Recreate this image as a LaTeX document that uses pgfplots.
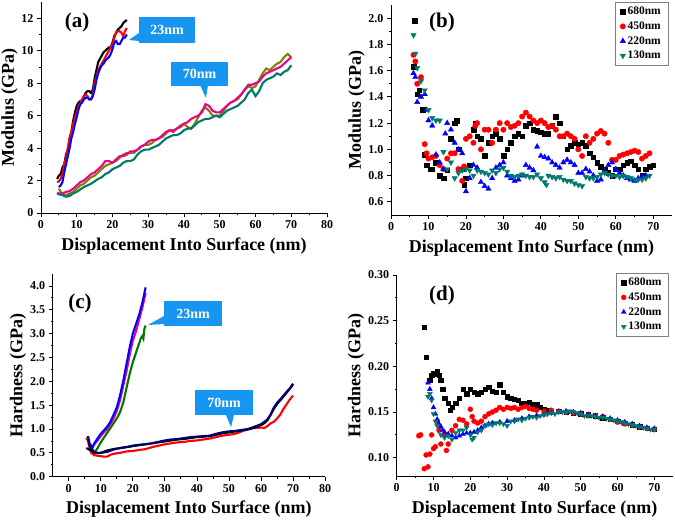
\documentclass[border=0pt]{standalone}
\usepackage{pgfplots}
\pgfplotsset{compat=1.18}
\usepackage{fontspec}
\setmainfont{Liberation Serif}
\definecolor{callout}{RGB}{22,150,240}
\definecolor{olivec}{RGB}{128,128,0}
\definecolor{tealc}{RGB}{0,120,110}
\definecolor{navyc}{RGB}{0,0,110}
\definecolor{greenc}{RGB}{0,120,0}

\pgfplotsset{
  panel/.style={
    scale only axis,
    axis lines=left,
    axis line style={-, line width=0.8pt},
    tick align=outside,
    major tick length=4pt,
    minor tick length=2pt,
    every tick/.style={black, line width=0.8pt},
    minor x tick num=1,
    minor y tick num=1,
    tick label style={font=\bfseries\fontsize{12}{12}\selectfont},
    label style={font=\bfseries\fontsize{18}{18}\selectfont},
    xlabel style={yshift=-2pt},
    ylabel shift=-3pt,
    /pgf/number format/assume math mode=true,
    xlabel={Displacement Into Surface (nm)},
  },
  curve/.style={no markers, line width=2.1pt},
  scat/.style={only marks, mark size=2.7pt},
  leg/.style={legend style={at={(1,1)}, anchor=north east, draw=gray,
    font=\bfseries\fontsize{11.5}{12}\selectfont, row sep=1.5pt, inner xsep=5pt, inner ysep=3pt},
    legend cell align=left},
}

\begin{document}
\begin{tikzpicture}
\useasboundingbox (0,0) rectangle (675pt,521pt);

% ---------- (a) ----------
\begin{axis}[panel,
  at={(41pt,308pt)}, anchor=south west, width=286pt, height=211pt,
  xmin=0, xmax=80, ymin=0, ymax=13,
  xtick={0,10,...,80}, ytick={0,2,...,12},
  ylabel={Modulus (GPa)}]
\addplot[curve, olivec] coordinates {(5,1.5)(5.5,1.3)(6,1.1)(7,1.1)(8,1.2)(9,1.3)(10,1.5)(11,1.7)(12,1.8)(13,2.0)(14,2.2)(15,2.3)(16,2.5)(17,2.7)(18,2.9)(19,3.0)(20,3.1)(21,3.2)(22,3.4)(23,3.6)(24,3.7)(25,3.7)(26,3.7)(27,3.9)(28,4.1)(29,4.2)(30,4.2)(31,4.3)(32,4.5)(33,4.6)(34,4.7)(35,4.9)(36,5.1)(37,5.1)(38,5.2)(39,5.4)(40,5.5)(41,5.3)(42,5.2)(43,5.5)(44,5.9)(45,6.3)(46,6.5)(47,6.3)(48,6.0)(49,6.0)(50,6.0)(51,6.3)(52,6.6)(53,6.8)(54,6.9)(55,7.0)(56,7.3)(57,7.6)(58,7.8)(59,7.7)(60,7.8)(61,8.2)(62,8.6)(63,8.9)(64,8.8)(65,9.0)(66,9.2)(67,9.3)(68,9.6)(69,9.8)(70,9.6)};
\addplot[curve, magenta] coordinates {(4.5,1.25)(5,1.2)(6,1.2)(7,1.3)(8,1.35)(9,1.5)(10,1.7)(11,1.9)(12,2.0)(13,2.2)(14,2.4)(15,2.5)(16,2.7)(17,2.9)(18,3.2)(19,3.2)(20,3.1)(21,3.3)(22,3.5)(23,3.5)(24,3.6)(25,3.8)(26,3.8)(27,3.9)(28,4.1)(29,4.2)(30,4.4)(31,4.5)(32,4.5)(33,4.6)(34,4.8)(35,5.0)(36,5.1)(37,5.0)(38,5.2)(39,5.3)(40,5.5)(41,5.6)(42,5.8)(43,5.9)(44,6.0)(45,6.2)(46,6.7)(47,6.6)(48,6.3)(49,6.2)(50,6.2)(51,6.4)(52,6.6)(53,6.8)(54,6.9)(55,7.1)(56,7.3)(57,7.6)(58,7.9)(59,7.9)(60,8.0)(61,8.1)(62,8.4)(63,8.6)(64,8.7)(65,8.8)(66,8.9)(67,9.0)(68,9.2)(69,9.4)(70,9.6)};
\addplot[curve, tealc] coordinates {(4.5,1.2)(5,1.15)(6,1.1)(7,1.0)(8,1.05)(9,1.2)(10,1.3)(11,1.45)(12,1.6)(13,1.7)(14,1.8)(15,1.95)(16,2.1)(17,2.2)(18,2.4)(19,2.5)(20,2.7)(21,2.8)(22,2.9)(23,3.1)(24,3.2)(25,3.2)(26,3.3)(27,3.6)(28,3.8)(29,3.9)(30,3.9)(31,4.0)(32,4.1)(33,4.2)(34,4.4)(35,4.6)(36,4.7)(37,4.8)(38,4.8)(39,4.9)(40,5.1)(41,5.2)(42,5.2)(43,5.4)(44,5.6)(45,5.7)(46,5.8)(47,5.8)(48,5.9)(49,6.0)(50,5.9)(51,6.1)(52,6.3)(53,6.4)(54,6.5)(55,6.6)(56,6.8)(57,7.0)(58,7.4)(59,7.6)(60,7.2)(61,7.5)(62,8.0)(63,8.2)(64,8.3)(65,8.4)(66,8.6)(67,8.5)(68,8.7)(69,8.8)(70,9.1)};
\addplot[curve, black] coordinates {(4.5,2.1)(5,2.3)(5.5,2.4)(6,2.8)(6.5,3.0)(7,3.6)(7.5,3.9)(8,4.6)(8.5,5.0)(9,5.7)(9.5,6.2)(10,6.6)(10.5,6.8)(11,6.9)(11.5,6.9)(12,7.2)(12.5,7.4)(13,7.5)(13.5,7.5)(14,7.4)(14.5,7.6)(15,8.3)(15.5,8.8)(16,9.3)(16.5,9.5)(17,9.7)(17.5,9.9)(18,10.0)(18.5,10.1)(19,10.2)(19.5,10.2)(20,10.5)(20.5,10.9)(21,11.1)(21.5,11.3)(22,11.4)(22.5,11.5)(23,11.7)(23.5,11.8)(24,11.9)};
\addplot[curve, red] coordinates {(4.5,1.9)(5,1.95)(5.5,2.1)(6,2.4)(6.5,3.0)(7,3.4)(7.5,4.0)(8,4.6)(8.5,5.0)(9,5.5)(9.5,5.9)(10,6.2)(10.5,6.6)(11,6.8)(11.5,7.0)(12,7.2)(12.5,7.3)(13,7.2)(13.5,7.0)(14,7.0)(14.5,7.3)(15,8.0)(15.5,8.4)(16,8.8)(16.5,9.0)(17,9.2)(17.5,9.4)(18,9.6)(18.5,9.8)(19,10.0)(19.5,10.2)(20,10.4)(20.5,10.8)(21,11.1)(21.5,11.2)(22,11.2)(22.5,11.1)(23,10.9)(23.5,11.2)(24,11.4)};
\addplot[curve, blue] coordinates {(5,1.6)(5.5,1.7)(6,1.9)(6.5,2.5)(7,3.0)(7.5,3.5)(8,4.0)(8.5,4.6)(9,5.0)(9.5,5.5)(10,5.9)(10.5,6.4)(11,6.7)(11.5,6.8)(12,7.0)(12.5,7.1)(13,7.1)(13.5,7.0)(14,7.0)(14.5,7.2)(15,7.6)(15.5,8.2)(16,8.6)(16.5,8.9)(17,9.1)(17.5,9.2)(18,9.4)(18.5,9.5)(19,9.6)(19.5,9.8)(20,10.1)(20.5,10.5)(21,10.6)(21.5,10.4)(22,10.4)(22.5,10.6)(23,10.8)(23.5,10.8)(24,11.0)};
\end{axis}

% ---------- (b) ----------
\begin{axis}[panel, leg, legend style={xshift=-4pt, yshift=3pt},
  at={(391pt,306pt)}, anchor=south west, width=281pt, height=210pt,
  xmin=0, xmax=75, ymin=0.5, ymax=2.1,
  xtick={0,10,...,70}, ytick={0.6,0.8,...,2.01},
  yticklabel style={/pgf/number format/.cd, fixed, fixed zerofill, precision=1},
  ylabel={Modulus (GPa)}]
\addplot[scat, black, mark=square*, mark size=2.3pt] coordinates {(6,1.63)(6.3,1.98)(7,1.42)(7.5,1.45)(8.5,1.3)(9,0.96)(9.5,0.88)(10.5,0.85)(11,0.85)(12,0.9)(13,0.8)(14,0.78)(15,0.84)(16,1.08)(17,1.2)(17.5,1.22)(18,1.0)(19,0.85)(19.5,0.73)(20,0.78)(21,0.88)(22,1.15)(22.5,1.2)(23,1.1)(24,1.08)(25,0.95)(26,1.05)(27,1.1)(28,1.12)(29,1.08)(30,0.95)(31,1.0)(32,1.05)(33,1.1)(34,1.12)(35,1.1)(36,1.18)(37,1.2)(38,1.15)(39,1.14)(40,1.13)(41,1.12)(42,1.12)(43,1.18)(44,1.25)(45,1.2)(46,1.1)(47,1.0)(48,1.03)(49,1.05)(50,1.04)(51,1.05)(52,1.03)(53,0.97)(54,0.94)(55,0.9)(56,0.87)(57,0.85)(58,0.82)(59,0.8)(60,0.85)(61,0.85)(62,0.88)(63,0.9)(64,0.91)(65,0.88)(66,0.85)(67,0.8)(68,0.85)(69,0.87)(70,0.88)};
\addlegendentry{680nm}
\addplot[scat, red, mark=*] coordinates {(6,1.72)(6.5,1.67)(7,1.5)(8,1.55)(9,1.04)(9.5,0.97)(10,0.93)(11,0.94)(12,0.95)(13,0.88)(14,0.85)(15,0.93)(16,0.97)(17,0.97)(18,0.85)(19,0.76)(19.5,0.87)(20,1.08)(21,1.1)(22,1.05)(22.5,1.18)(23,1.2)(24,1.0)(25,1.15)(26,1.15)(27,1.05)(28,1.15)(29,1.2)(30,1.15)(31,1.2)(32,1.17)(33,1.18)(34,1.2)(35,1.25)(36,1.28)(37,1.25)(38,1.22)(39,1.2)(40,1.22)(41,1.2)(42,1.17)(43,1.18)(44,1.15)(45,1.1)(46,1.1)(47,1.12)(48,1.1)(49,1.08)(50,1.0)(51,0.95)(52,1.1)(53,1.05)(54,1.08)(55,1.12)(56,1.14)(57,1.12)(58,1.05)(59,0.92)(60,0.92)(61,0.95)(62,0.96)(63,0.97)(64,0.98)(65,0.99)(66,0.98)(67,0.93)(68,0.95)(69,0.97)};
\addlegendentry{450nm}
\addplot[scat, blue, mark=triangle*, mark size=3.1pt] coordinates {(6,1.58)(6.5,1.55)(7,1.36)(8,1.4)(9,1.42)(9.5,1.3)(10,1.22)(11,1.18)(12,0.96)(13,0.9)(14,0.85)(14.5,1.12)(15,1.2)(16,1.15)(17,1.05)(18,1.0)(19,0.97)(20,0.68)(21,0.78)(22,0.88)(23,0.86)(24,0.75)(25,0.72)(26,0.7)(27,0.78)(28,0.86)(29,0.88)(30,0.9)(31,0.8)(32,0.78)(33,0.76)(34,0.77)(35,0.8)(36,0.88)(37,0.86)(38,0.84)(39,1.02)(40,0.95)(41,0.94)(42,0.93)(43,0.9)(44,0.88)(45,0.86)(46,0.9)(47,0.92)(48,0.9)(49,0.88)(50,0.82)(51,0.82)(52,0.85)(53,0.83)(54,0.8)(55,0.76)(56,0.77)(57,0.83)(58,0.88)(59,0.9)(60,0.85)(61,0.82)(62,0.8)(63,0.78)(64,0.77)(65,0.76)(66,0.78)(67,0.79)(68,0.8)};
\addlegendentry{220nm}
\addplot[scat, tealc, mark=triangle*, mark size=3.1pt, mark options={rotate=180}] coordinates {(6,1.87)(6.5,1.73)(7,1.62)(8,1.52)(9,1.45)(10,1.3)(11,1.24)(12,1.22)(13,1.22)(14,0.98)(15,0.85)(16,0.9)(17,0.78)(18,0.82)(19,0.84)(20,0.85)(21,0.84)(22,0.8)(23,0.84)(24,0.83)(25,0.82)(26,0.81)(27,0.84)(28,0.82)(29,0.85)(30,0.86)(31,0.83)(32,0.8)(33,0.79)(34,0.8)(35,0.81)(36,0.8)(37,0.79)(38,0.79)(39,0.81)(40,0.78)(41,0.75)(41.5,0.73)(42,0.8)(43,0.79)(44,0.78)(45,0.79)(46,0.77)(47,0.76)(48,0.76)(49,0.74)(50,0.73)(51,0.72)(52,0.79)(53,0.78)(54,0.78)(55,0.79)(56,0.81)(57,0.82)(58,0.81)(59,0.8)(60,0.8)(61,0.79)(62,0.8)(63,0.79)(64,0.78)(65,0.77)(66,0.77)(67,0.77)(68,0.78)(69,0.8)};
\addlegendentry{130nm}
\end{axis}

% ---------- (c) ----------
\begin{axis}[panel,
  at={(52.7pt,44.3pt)}, anchor=south west, width=272.4pt, height=202.7pt,
  xmin=-5, xmax=80, ymin=0, ymax=4.25,
  xtick={0,10,...,80}, ytick={0,0.5,...,4.01},
  yticklabel style={/pgf/number format/.cd, fixed, fixed zerofill, precision=1},
  ylabel={Hardness (GPa)}]
\addplot[curve, greenc] coordinates {(8,0.5)(8.5,0.55)(9,0.6)(10,0.72)(11,0.82)(12,0.92)(13,1.02)(14,1.12)(15,1.22)(16,1.35)(17,1.55)(18,1.85)(19,2.15)(20,2.4)(21,2.6)(22,2.8)(22.5,2.9)(23,2.95)(23.3,2.9)(23.6,3.1)(24,3.17)};
\addplot[curve, magenta] coordinates {(7,0.6)(8,0.68)(9,0.76)(10,0.85)(11,0.93)(12,1.0)(13,1.1)(14,1.22)(15,1.38)(16,1.6)(17,1.9)(18,2.2)(19,2.55)(20,2.85)(21,3.05)(22,3.3)(23,3.55)(24,3.85)};
\addplot[curve, blue] coordinates {(6,0.85)(6.5,0.7)(7,0.65)(7.5,0.62)(8,0.7)(9,0.8)(10,0.9)(11,0.97)(12,1.05)(13,1.15)(14,1.3)(15,1.45)(16,1.7)(17,2.0)(18,2.35)(19,2.7)(20,3.0)(21,3.2)(22,3.4)(23,3.65)(24,3.97)};
\addplot[curve, red] coordinates {(5.5,0.82)(6,0.75)(6.5,0.6)(7,0.5)(8,0.45)(9,0.44)(10,0.43)(11,0.42)(12,0.42)(13,0.46)(14,0.48)(16,0.5)(18,0.53)(20,0.54)(22,0.56)(24,0.58)(26,0.62)(28,0.65)(30,0.68)(32,0.7)(34,0.72)(36,0.73)(38,0.75)(40,0.76)(42,0.78)(44,0.8)(46,0.83)(48,0.86)(50,0.88)(52,0.9)(54,0.95)(56,1.0)(58,1.02)(60,1.03)(61,1.02)(62,1.06)(63,1.12)(64,1.15)(65,1.22)(66,1.3)(67,1.42)(68,1.52)(69,1.62)(70,1.7)};
\addplot[curve, black] coordinates {(5.5,0.6)(6,0.58)(7,0.55)(8,0.5)(10,0.5)(12,0.55)(14,0.58)(16,0.6)(18,0.62)(20,0.64)(22,0.66)(24,0.68)(26,0.7)(28,0.72)(30,0.74)(32,0.76)(34,0.78)(36,0.79)(38,0.81)(40,0.83)(42,0.84)(44,0.85)(46,0.88)(48,0.91)(50,0.93)(52,0.95)(54,0.97)(56,0.99)(58,1.03)(60,1.08)(61,1.12)(62,1.18)(63,1.3)(64,1.42)(65,1.52)(66,1.6)(67,1.68)(68,1.76)(69,1.85)(70,1.95)};
\addplot[curve, navyc] coordinates {(6,0.85)(6.5,0.65)(7,0.6)(8,0.52)(9,0.5)(10,0.5)(12,0.52)(14,0.57)(16,0.6)(18,0.62)(20,0.65)(22,0.67)(24,0.68)(26,0.7)(28,0.73)(30,0.76)(32,0.78)(34,0.79)(36,0.81)(38,0.83)(40,0.84)(42,0.85)(44,0.86)(46,0.9)(48,0.93)(50,0.95)(52,0.96)(54,0.98)(56,1.0)(58,1.05)(60,1.1)(61,1.15)(62,1.2)(63,1.3)(64,1.45)(65,1.55)(66,1.62)(67,1.7)(68,1.78)(69,1.85)(70,1.92)};
\end{axis}

% ---------- (d) ----------
\begin{axis}[panel, leg, legend style={xshift=-4pt, yshift=2pt},
  at={(396.7pt,45pt)}, anchor=south west, width=276pt, height=201pt,
  xmin=0, xmax=75, ymin=0.08, ymax=0.30,
  xtick={0,10,...,70}, ytick={0.10,0.15,...,0.301},
  yticklabel style={/pgf/number format/.cd, fixed, fixed zerofill, precision=2},
  ylabel={Hardness (GPa)}]
\addplot[scat, black, mark=square*, mark size=2.2pt] coordinates {(7.5,0.243)(8,0.21)(9,0.185)(9.5,0.19)(10,0.192)(11,0.195)(11.5,0.19)(12,0.185)(12.5,0.175)(13,0.165)(14,0.16)(14.5,0.152)(15,0.155)(16,0.16)(17,0.165)(18,0.175)(19,0.17)(20,0.175)(21,0.172)(22,0.17)(23,0.172)(24,0.175)(25,0.177)(26,0.173)(27,0.172)(28,0.18)(29,0.172)(30,0.167)(31,0.165)(32,0.164)(33,0.163)(34,0.16)(35,0.16)(36,0.161)(37,0.158)(38,0.158)(39,0.155)(40,0.153)(41,0.152)(42,0.151)(44,0.151)(46,0.150)(48,0.149)(50,0.148)(52,0.147)(54,0.146)(56,0.144)(58,0.142)(60,0.14)(62,0.138)(64,0.136)(66,0.134)(68,0.132)(70,0.131)};
\addlegendentry{680nm}
\addplot[scat, red, mark=*, mark size=2.5pt] coordinates {(6,0.124)(6.5,0.125)(7.5,0.088)(8,0.103)(8.5,0.09)(9,0.104)(9.5,0.125)(10,0.11)(10.5,0.112)(11,0.14)(11.5,0.13)(12,0.115)(13,0.125)(13.5,0.108)(14,0.115)(15,0.13)(16,0.135)(17,0.142)(18,0.141)(19,0.137)(20,0.153)(20.5,0.145)(21,0.14)(22,0.138)(23,0.14)(24,0.145)(25,0.148)(26,0.15)(27,0.152)(28,0.155)(29,0.153)(30,0.155)(31,0.154)(32,0.155)(33,0.153)(34,0.155)(35,0.156)(36,0.154)(37,0.153)(38,0.152)(40,0.151)(42,0.152)(44,0.151)(46,0.150)(48,0.149)(50,0.148)(52,0.147)(54,0.146)(56,0.145)(58,0.142)(60,0.139)(62,0.137)(64,0.136)(66,0.134)(68,0.132)(70,0.131)};
\addlegendentry{450nm}
\addplot[scat, blue, mark=triangle*, mark size=2.8pt] coordinates {(8.5,0.182)(9,0.175)(9.5,0.165)(10,0.155)(10.5,0.148)(11,0.142)(11.5,0.137)(12,0.134)(12.5,0.13)(13,0.128)(14,0.126)(15,0.124)(16,0.122)(17,0.124)(18,0.126)(19,0.127)(20,0.127)(21,0.128)(22,0.13)(23,0.133)(24,0.135)(25,0.137)(26,0.138)(28,0.139)(30,0.14)(32,0.141)(34,0.143)(36,0.145)(38,0.146)(40,0.147)(42,0.149)(44,0.15)(46,0.151)(48,0.15)(50,0.149)(52,0.147)(54,0.146)(56,0.145)(58,0.143)(60,0.141)(62,0.139)(64,0.137)(66,0.135)(68,0.133)(70,0.132)};
\addlegendentry{220nm}
\addplot[scat, tealc, mark=triangle*, mark size=2.8pt, mark options={rotate=180}] coordinates {(8.5,0.167)(9,0.17)(9.5,0.163)(10,0.148)(10.5,0.14)(11,0.135)(12,0.125)(13,0.122)(14,0.124)(15,0.12)(16,0.127)(17,0.13)(18,0.13)(19,0.133)(20,0.125)(20.5,0.12)(21,0.122)(22,0.128)(23,0.13)(24,0.135)(25,0.137)(26,0.136)(27,0.138)(28,0.138)(29,0.137)(30,0.135)(31,0.14)(32,0.14)(33,0.142)(34,0.141)(35,0.143)(36,0.144)(37,0.145)(38,0.144)(39,0.146)(40,0.147)(41,0.148)(42,0.149)(43,0.148)(44,0.15)(45,0.15)(46,0.15)(47,0.151)(48,0.15)(49,0.149)(50,0.148)(51,0.146)(52,0.146)(53,0.146)(54,0.145)(55,0.144)(56,0.144)(57,0.143)(58,0.142)(59,0.141)(60,0.14)(61,0.139)(62,0.138)(63,0.137)(64,0.136)(65,0.135)(66,0.134)(67,0.133)(68,0.132)(69,0.131)(70,0.131)};
\addlegendentry{130nm}
\end{axis}

% ---------- panel letters ----------
\begin{scope}[every node/.style={font=\bfseries\fontsize{21}{21}\selectfont}]
\node at (77pt,499pt) {(a)};
\node at (442pt,499pt) {(b)};
\node at (80pt,218pt) {(c)};
\node at (442pt,226pt) {(d)};
\end{scope}

% ---------- call-outs ----------
\begin{scope}[every node/.style={fill=callout, text=white, inner sep=0pt,
    font=\bfseries\fontsize{14}{14}\selectfont}]
\fill[callout] (139pt,488pt) -- (139pt,480pt) -- (129pt,481pt) -- cycle;
\node[minimum width=56pt, minimum height=26pt] at (167pt,491pt) {23nm};
\fill[callout] (200pt,436pt) -- (208pt,436pt) -- (206pt,423pt) -- cycle;
\node[minimum width=57pt, minimum height=24pt] at (199.5pt,447pt) {70nm};
\fill[callout] (164pt,205pt) -- (164pt,197pt) -- (148pt,196pt) -- cycle;
\node[minimum width=58pt, minimum height=25pt] at (193pt,207pt) {23nm};
\fill[callout] (226pt,106pt) -- (234pt,106pt) -- (231pt,94pt) -- cycle;
\node[minimum width=58pt, minimum height=25pt] at (224pt,118.5pt) {70nm};
\end{scope}
\end{tikzpicture}
\end{document}
